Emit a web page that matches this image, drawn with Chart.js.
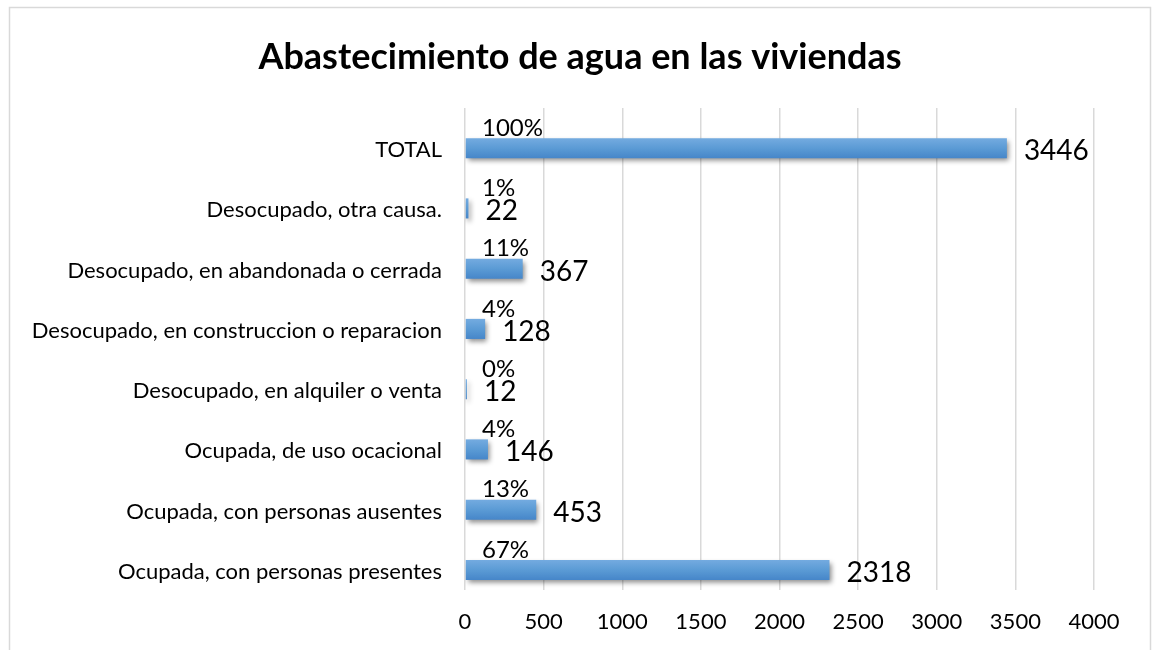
<!DOCTYPE html>
<html>
<head>
<meta charset="utf-8">
<script src="https://cdn.jsdelivr.net/npm/chart.js@4.4.0/dist/chart.umd.min.js"></script>
<style>
  html, body { margin: 0; padding: 0; background: #fff; }
  #wrap { width: 1152px; height: 650px; }
</style>
</head>
<body>
<div id="wrap"><canvas id="chart" width="1152" height="650"></canvas></div>
<script>
const canvas = document.getElementById("chart");

// categories, top to bottom
const categories = [
  "TOTAL",
  "Desocupado, otra causa.",
  "Desocupado, en abandonada o cerrada",
  "Desocupado, en construccion o reparacion",
  "Desocupado, en alquiler o venta",
  "Ocupada, de uso ocacional",
  "Ocupada, con personas ausentes",
  "Ocupada, con personas presentes",
];
// number of dwellings
const viviendas = [3446, 22, 367, 128, 12, 146, 453, 2318];
// share of the total, in percent
const porcentajes = [100, 1, 11, 4, 0, 4, 13, 67];
const xTicks = [0, 500, 1000, 1500, 2000, 2500, 3000, 3500, 4000];
const title = "Abastecimiento de agua en las viviendas";

const FONT = "Lato, 'Open Sans', sans-serif";

// gradient for each bar (lighter on top, darker below)
function barFill(context) {
  const chart = context.chart;
  const yScale = chart.scales.y;
  if (!chart.chartArea || !yScale) return "#5b9bd5";
  const meta = chart.getDatasetMeta(context.datasetIndex);
  const el = meta.data[context.dataIndex];
  let top, bottom;
  if (el && el.height) {
    top = el.y - el.height / 2;
    bottom = el.y + el.height / 2;
  } else {
    const c = yScale.getPixelForValue(context.dataIndex);
    const band = (yScale.bottom - yScale.top) / categories.length;
    top = c;
    bottom = c + band / 3;
  }
  const g = chart.ctx.createLinearGradient(0, top, 0, bottom);
  g.addColorStop(0, "#74abe0");
  g.addColorStop(0.5, "#5b9bd5");
  g.addColorStop(1, "#4686c9");
  return g;
}

//white background, light frame and the title (centred on the frame)
const framePlugin = {
  id: "frame",
  beforeDraw(chart) {
    const ctx = chart.ctx;
    ctx.save();
    ctx.fillStyle = "#ffffff";
    ctx.fillRect(0, 0, chart.width, chart.height);
    ctx.strokeStyle = "#d9d9d9";
    ctx.lineWidth = 1.5;
    ctx.strokeRect(9.5, 7.5, 1141, 700);
    ctx.fillStyle = "#000";
    ctx.font = "bold 36px " + FONT;
    ctx.textAlign = "center";
    ctx.textBaseline = "middle";
    ctx.fillText(title, 580, 57);
    ctx.restore();
  },
};

//shadow under the value bars
const shadowPlugin = {
  id: "barShadow",
  beforeDatasetDraw(chart, args) {
    if (args.index !== 1) return;
    const ctx = chart.ctx;
    ctx.save();
    ctx.shadowColor = "rgba(0,0,0,0.45)";
    ctx.shadowBlur = 5;
    ctx.shadowOffsetX = 2;
    ctx.shadowOffsetY = 3;
  },
  afterDatasetDraw(chart, args) {
    if (args.index !== 1) return;
    chart.ctx.restore();
  },
};

//percent and value labels
const labelPlugin = {
  id: "barLabels",
  afterDatasetsDraw(chart) {
    const ctx = chart.ctx;
    const x0 = chart.scales.x.getPixelForValue(0);
    ctx.save();
    ctx.fillStyle = "#000";
    ctx.textAlign = "left";
    ctx.textBaseline = "middle";

    const pctMeta = chart.getDatasetMeta(0);
    ctx.font = "24px " + FONT;
    pctMeta.data.forEach((bar, i) => {
      ctx.fillText(porcentajes[i] + "%", x0 + 17, bar.y);
    });

    const valMeta = chart.getDatasetMeta(1);
    ctx.font = "28px " + FONT;
    valMeta.data.forEach((bar, i) => {
      ctx.fillText(String(viviendas[i]), bar.x + 17, bar.y + 3);
    });
    ctx.restore();
  },
};

new Chart(canvas, {
  type: "bar",
  plugins: [framePlugin, shadowPlugin, labelPlugin],
  data: {
    labels: categories,
    datasets: [
      {
        label: "Porcentaje",
        data: porcentajes,
        backgroundColor: "rgba(0,0,0,0)",
        borderWidth: 0,
      },
      {
        label: "Viviendas",
        data: viviendas,
        backgroundColor: barFill,
        borderWidth: 0,
      },
    ],
  },
  options: {
    indexAxis: "y",
    responsive: false,
    animation: false,
    categoryPercentage: 2 / 3,
    barPercentage: 1,
    layout: { padding: { left: 9, right: 58, top: 108, bottom: 15 } },
    plugins: {
      legend: { display: false },
      tooltip: { enabled: false },
      title: { display: false },
    },
    scales: {
      x: {
        type: "linear",
        min: 0,
        max: 4000,
        afterBuildTicks(scale) {
          scale.ticks = xTicks.map((v) => ({ value: v }));
        },
        afterFit(scale) {
          scale.height = 45;
        },
        grid: { color: "#d9d9d9", lineWidth: 1.5, drawTicks: false },
        border: { display: false },
        ticks: {
          color: "#000",
          padding: 19,
          maxRotation: 0,
          font: { family: FONT, size: 22 },
          callback: (v) => String(v),
        },
      },
      y: {
        grid: { display: false, drawTicks: false },
        border: { display: false },
        afterFit(scale) {
          scale.width = 465 - 9;
        },
        ticks: {
          color: "#000",
          padding: 23,
          labelOffset: 12,
          font: { family: FONT, size: 22 },
        },
      },
    },
  },
});
</script>
</body>
</html>
